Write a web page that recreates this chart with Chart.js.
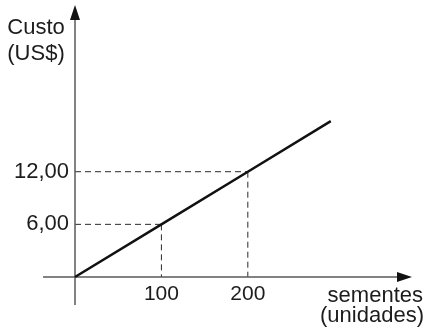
<!DOCTYPE html>
<html>
<head>
<meta charset="utf-8">
<script src="https://cdn.jsdelivr.net/npm/chart.js@4.4.1/dist/chart.umd.min.js"></script>
<style>
  html, body { margin: 0; padding: 0; background: #fff; }
  #wrap { width: 431px; height: 333px; }
</style>
</head>
<body>
<div id="wrap"><canvas id="costChart" width="431" height="333"></canvas></div>
<script>
// Data
const seeds = [0, 100, 200, 296];          // sementes (unidades)
const cost = [0, 6, 12, 17.76];            // custo (US$)
const xTicks = [100, 200];
const yTicks = [6, 12];
const yTickLabels = ['6,00', '12,00'];
const guidePoints = [1, 2];                // points with dashed guides
const xTitle = ['sementes', '(unidades)'];
const yTitle = ['Custo', '(US$)'];

const FONT = '"Liberation Sans", Arial, sans-serif';
const TEXT = '#1c1c1c';
const AXIS = '#5a5a5a';

// Axes with arrows, dashed guides and axis titles
const axesPlugin = {
    id: 'axesPlugin',
    beforeDatasetsDraw(chart) {
        const c = chart.ctx;
        const xs = chart.scales.x, ys = chart.scales.y;
        const x0 = xs.getPixelForValue(0), y0 = ys.getPixelForValue(0);
        const ca = chart.chartArea;
        c.save();

        // dashed guides
        c.strokeStyle = '#2a2a2a';
        c.lineWidth = 1;
        c.setLineDash([6, 4]);
        guidePoints.forEach(i => {
            const px = xs.getPixelForValue(seeds[i]);
            const py = ys.getPixelForValue(cost[i]);
            c.beginPath();
            c.moveTo(x0, py); c.lineTo(px, py);
            c.moveTo(px, py); c.lineTo(px, y0);
            c.stroke();
        });
        c.setLineDash([]);

        // axis lines
        c.strokeStyle = AXIS;
        c.lineWidth = 1.5;
        c.beginPath();
        c.moveTo(x0 - 32, y0); c.lineTo(ca.right - 8, y0);
        c.moveTo(x0, y0 + 28); c.lineTo(x0, ca.top + 8);
        c.stroke();

        // arrow heads
        c.fillStyle = '#111';
        c.beginPath();
        c.moveTo(ca.right, y0); c.lineTo(ca.right - 15, y0 - 5); c.lineTo(ca.right - 15, y0 + 5);
        c.closePath(); c.fill();
        c.beginPath();
        c.moveTo(x0, ca.top); c.lineTo(x0 - 5, ca.top + 15); c.lineTo(x0 + 5, ca.top + 15);
        c.closePath(); c.fill();
        c.restore();
    },
    afterDraw(chart) {
        const c = chart.ctx;
        c.save();
        c.fillStyle = TEXT;
        c.font = '22px ' + FONT;
        c.textBaseline = 'alphabetic';
        c.textAlign = 'center';
        c.fillText(yTitle[0], 36, 34);
        c.fillText(yTitle[1], 36, 60);
        c.textAlign = 'right';
        c.fillText(xTitle[0], 423, 302);
        c.fillText(xTitle[1], 424, 322);
        c.restore();
    }
};

const ctx = document.getElementById('costChart').getContext('2d');
const costChart = new Chart(ctx, {
    type: 'line',
    data: {
        datasets: [{
            data: seeds.map((s, i) => ({ x: s, y: cost[i] })),
            borderColor: '#111',
            borderWidth: 2.5,
            pointRadius: 0,
            tension: 0,
            clip: false
        }]
    },
    options: {
        responsive: false,
        animation: false,
        devicePixelRatio: 1,
        layout: { padding: { left: 0, right: 19, top: 5, bottom: 0 } },
        plugins: { legend: { display: false }, tooltip: { enabled: false } },
        scales: {
            x: {
                type: 'linear',
                min: 0,
                max: 390,
                grid: { display: false, drawTicks: false },
                border: { display: false },
                afterBuildTicks: s => { s.ticks = xTicks.map(v => ({ value: v })); },
                afterFit: s => { s.height = 56; s.paddingLeft = 0; s.paddingRight = 0; },
                ticks: {
                    padding: 5,
                    color: TEXT,
                    font: { family: FONT, size: 21 },
                    maxRotation: 0
                }
            },
            y: {
                type: 'linear',
                min: 0,
                max: 31,
                grid: { display: false, drawTicks: false },
                border: { display: false },
                afterBuildTicks: s => { s.ticks = yTicks.map(v => ({ value: v })); },
                afterFit: s => { s.width = 75; s.paddingTop = 0; s.paddingBottom = 0; },
                ticks: {
                    padding: 6,
                    color: TEXT,
                    font: { family: FONT, size: 22 },
                    callback: v => yTickLabels[yTicks.indexOf(v)]
                }
            }
        }
    },
    plugins: [axesPlugin]
});
</script>
</body>
</html>
